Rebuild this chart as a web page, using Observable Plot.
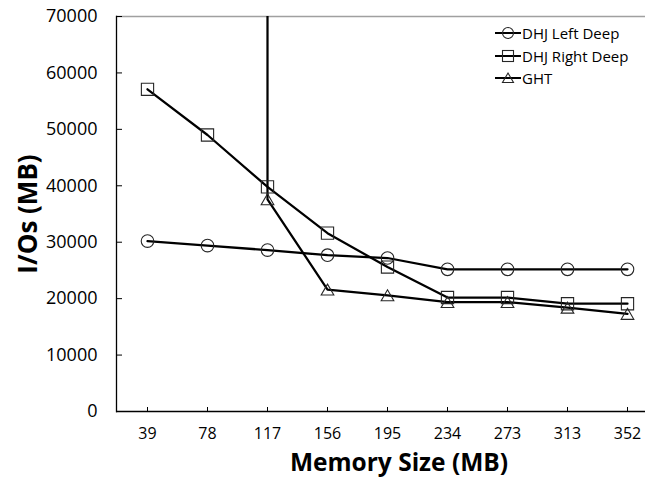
<!DOCTYPE html>
<html><head><meta charset="utf-8">
<script src="https://cdn.jsdelivr.net/npm/d3@7"></script>
<script src="https://cdn.jsdelivr.net/npm/@observablehq/plot@0.6"></script>
<style>
body{margin:0;background:#fff;}
#chart{position:relative;width:645px;height:481px;font-family:"Open Sans",sans-serif;color:#000;}
.lg{position:absolute;left:494px;height:20px;display:flex;align-items:center;font-size:15px;white-space:nowrap;}
.lg svg{margin-right:1px;}
</style></head><body><div id="chart"></div>
<script>
const memory = ["39", "78", "117", "156", "195", "234", "273", "313", "352"];
const dhjLeftDeep = [30200, 29400, 28600, 27700, 27200, 25200, 25200, 25200, 25200];
const dhjRightDeep = [57100, 49000, 39800, 31600, 25600, 20200, 20200, 19100, 19100];
const ght = [null, null, 37600, 21600, 20600, 19400, 19400, 18400, 17300];
const ghtSpikeAt = ["117"]; // GHT curve goes off the top of the chart here
const yTicks = [0, 10000, 20000, 30000, 40000, 50000, 60000, 70000];
const seriesNames = ["DHJ Left Deep", "DHJ Right Deep", "GHT"];
const seriesSymbols = ["circle", "square", "triangle"];
const xTitle = "Memory Size (MB)";
const yTitle = "I/Os (MB)";

const seriesValues = [dhjLeftDeep, dhjRightDeep, ght];
const rows = seriesValues.flatMap((vals, s) =>
  memory.map((m, i) => ({memory: m, value: vals[i], series: seriesNames[s]})).filter(d => d.value != null));
const yMax = yTicks[yTicks.length - 1];
const spike = ghtSpikeAt.map(m => ({memory: m, from: ght[memory.indexOf(m)], to: yMax}));

const dotStyle = {fill: "none", stroke: "#262626", strokeWidth: 1.1};
const chart = Plot.plot({
  width: 645, height: 481,
  marginLeft: 116, marginRight: 0, marginTop: 16, marginBottom: 70,
  style: {fontFamily: "Open Sans", fontSize: "16px", color: "#000", background: "#fff"},
  x: {type: "point", domain: memory, range: [146.5, 626.5], padding: 0, label: null},
  y: {domain: [0, yMax], label: null},
  marks: [
    Plot.ruleY([yMax], {stroke: "#a0a0a0", strokeWidth: 1.3}),
    Plot.frame({anchor: "left", stroke: "#000", strokeWidth: 1.3}),
    Plot.ruleY([0], {stroke: "#000", strokeWidth: 1.3}),
    Plot.axisY(yTicks, {tickSize: -6, tickPadding: 25, tickFormat: d => String(d), fontSize: 18, label: null}),
    Plot.axisX(memory, {tickSize: -4, tickPadding: 20, fontSize: 16, label: null}),
    Plot.ruleX(spike, {x: "memory", y1: "from", y2: "to", stroke: "#000", strokeWidth: 2.25}),
    Plot.line(rows, {x: "memory", y: "value", z: "series", stroke: "#000", strokeWidth: 2.25}),
    Plot.dot(rows.filter(d => d.series === seriesNames[0]), {x: "memory", y: "value", symbol: seriesSymbols[0], r: 6.3, ...dotStyle}),
    Plot.dot(rows.filter(d => d.series === seriesNames[1]), {x: "memory", y: "value", symbol: seriesSymbols[1], r: 6.9, ...dotStyle}),
    Plot.dot(rows.filter(d => d.series === seriesNames[2]), {x: "memory", y: "value", symbol: seriesSymbols[2], r: 4.7, dy: 1.8, ...dotStyle}),
    Plot.text([xTitle], {text: d => d, frameAnchor: "bottom", dx: 18, dy: 59, fontSize: 24.5, fontWeight: "bold", fill: "#000"}),
    Plot.text([yTitle], {text: d => d, frameAnchor: "left", textAnchor: "middle", dx: -88, dy: 0, rotate: -90, fontSize: 26, fontWeight: "bold", fill: "#000"})
  ]
});
const root = document.getElementById("chart");
root.appendChild(chart);

// legend inside plot, top right
const tops = [23, 45.5, 68];
seriesNames.forEach((name, i) => {
  const row = document.createElement("div");
  row.className = "lg";
  row.style.top = tops[i] + "px";
  const sym = seriesSymbols[i];
  let mk = "";
  if (sym === "circle") mk = '<circle cx="14" cy="10" r="5.5" fill="none" stroke="#262626" stroke-width="1.1"/>';
  else if (sym === "square") mk = '<rect x="8.5" y="4.5" width="11" height="11" fill="none" stroke="#262626" stroke-width="1.1"/>';
  else mk = '<path d="M14,5 L19.5,14.5 L8.5,14.5 Z" fill="none" stroke="#262626" stroke-width="1.1"/>';
  row.innerHTML = '<svg width="27" height="20"><line x1="1" x2="27" y1="10" y2="10" stroke="#000" stroke-width="2"/>' + mk + '</svg><span>' + name + '</span>';
  root.appendChild(row);
});
</script>
</body></html>
